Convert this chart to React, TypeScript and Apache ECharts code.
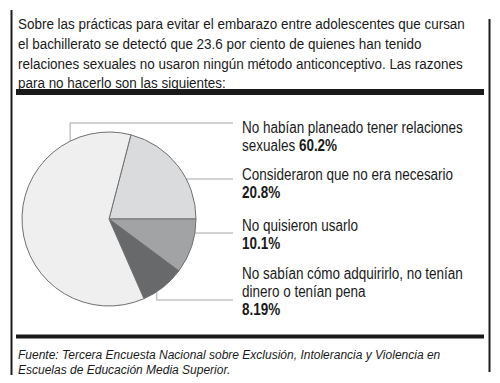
import React, { useEffect, useRef } from "react";
import * as echarts from "echarts";

// ---- data ----
const categories = [
  "No habían planeado tener relaciones\nsexuales",
  "Consideraron que no era necesario",
  "No quisieron usarlo",
  "No sabían cómo adquirirlo, no tenían\ndinero o tenían pena",
];
const values = [60.2, 20.8, 10.1, 8.19];
const valueLabels = ["60.2%", "20.8%", "10.1%", "8.19%"];
const headerLines = [
  "Sobre las prácticas para evitar el embarazo entre adolescentes que cursan",
  "el bachillerato se detectó que 23.6 por ciento de quienes han tenido",
  "relaciones sexuales no usaron ningún método anticonceptivo. Las razones",
  "para no hacerlo son las siguientes:",
];
const sourceLines = [
  "Fuente: Tercera Encuesta Nacional sobre Exclusión, Intolerancia y Violencia en",
  "Escuelas de Educación Media Superior.",
];

// ---- styling / layout ----
const sliceColors = ["#efefef", "#dadbdd", "#a2a3a5", "#68696b"];
const SANS = "'Liberation Sans', Arial, sans-serif";
const CX = 109;
const CY = 219;
const R = 87;
const anchors = [
  { a: 130.3, f: 0.69, elbowY: 123 },
  { a: 32.8, f: 0.85 },
  { a: -12.7, f: 0.73 },
  { a: -50.4, f: 0.86, elbowY: 300 },
];
const textTop = [128, 175, 226, 274];
const LINE_H = 18;
const TEXT_X = 242;
const LEADER_END = 233;
const HEADER_FS = 15.5;
const HEADER_REF_W = 445; // width of header line 3
const BLOCK_FS = 16;
const BLOCK_REF_W = 221; // width of first label line

function measure(text: string, font: string): number {
  const c = document.createElement("canvas").getContext("2d");
  if (!c) return text.length * 7;
  c.font = font;
  return c.measureText(text).width;
}

export default function App() {
  const ref = useRef<HTMLDivElement>(null);
  useEffect(() => {
    if (!ref.current) return;
    const chart = echarts.init(ref.current, null, { renderer: "svg" });
    const total = values.reduce((s, v) => s + v, 0);
    const order = [1, 2, 3, 0];
    const startAngle = (values[1] / total) * 360;

    const headerScale = HEADER_REF_W / measure(headerLines[2], `${HEADER_FS}px ${SANS}`);
    const blockScale = BLOCK_REF_W / measure(categories[0].split("\n")[0], `${BLOCK_FS}px ${SANS}`);

    const graphics: any[] = [];
    graphics.push({ type: "line", shape: { x1: 11.5, y1: 10, x2: 11.5, y2: 375 }, style: { stroke: "#1e1e1e", lineWidth: 2 } });
    graphics.push({ type: "line", shape: { x1: 489.5, y1: 19, x2: 489.5, y2: 372 }, style: { stroke: "#1e1e1e", lineWidth: 2 } });
    graphics.push({ type: "rect", shape: { x: 16, y: 89, width: 468, height: 6 }, style: { fill: "#1a1a1a" } });
    graphics.push({ type: "rect", shape: { x: 16, y: 334.5, width: 468, height: 4 }, style: { fill: "#1a1a1a" } });
    headerLines.forEach((t, i) => {
      graphics.push({
        type: "text",
        x: 18,
        y: 24 + i * 19.7,
        scaleX: headerScale,
        style: { text: t, x: 0, y: 0, fontFamily: SANS, fontSize: HEADER_FS, fill: "#1a1a1a", verticalAlign: "middle" },
      });
    });
    sourceLines.forEach((t, i) => {
      graphics.push({
        type: "text",
        style: { text: t, x: 18, y: 355 + i * 15, fontFamily: SANS, fontStyle: "italic", fontSize: 12, fill: "#1a1a1a", verticalAlign: "middle" },
      });
    });
    categories.forEach((c, i) => {
      const an = anchors[i];
      const rad = (an.a * Math.PI) / 180;
      const dx = CX + Math.cos(rad) * R * an.f;
      const dy = CY - Math.sin(rad) * R * an.f;
      const pts: number[][] = an.elbowY !== undefined
        ? [[dx, dy], [dx, an.elbowY], [LEADER_END, an.elbowY]]
        : [[dx, dy], [LEADER_END, dy]];
      graphics.push({ type: "polyline", shape: { points: pts }, style: { stroke: "#c4c4c4", lineWidth: 1.5, fill: null } });
      graphics.push({ type: "circle", shape: { cx: dx, cy: dy, r: 2.6 }, style: { fill: "#111" } });
      const lines = c.split("\n");
      let txt: string;
      if (i === 0) {
        txt = `{n|${lines[0]}}\n{n|${lines[1]} }{b|${valueLabels[i]}}`;
      } else {
        txt = lines.map((l) => `{n|${l}}`).join("\n") + `\n{b|${valueLabels[i]}}`;
      }
      graphics.push({
        type: "text",
        x: TEXT_X,
        y: textTop[i] - LINE_H / 2,
        scaleX: blockScale,
        style: {
          text: txt,
          x: 0,
          y: 0,
          verticalAlign: "top",
          rich: {
            n: { fontFamily: SANS, fontSize: BLOCK_FS, fill: "#1a1a1a", lineHeight: LINE_H },
            b: { fontFamily: SANS, fontSize: BLOCK_FS, fontWeight: "bold", fill: "#1a1a1a", lineHeight: LINE_H },
          },
        },
      });
    });

    chart.setOption({
      animation: false,
      backgroundColor: "#ffffff",
      series: [
        {
          type: "pie",
          center: [CX, CY],
          radius: [0, R],
          startAngle,
          clockwise: true,
          silent: true,
          label: { show: false },
          labelLine: { show: false },
          itemStyle: { borderColor: "#707070", borderWidth: 1 },
          data: order.map((k) => ({ name: categories[k], value: values[k], itemStyle: { color: sliceColors[k] } })),
        },
      ],
      graphic: graphics,
    });
    return () => chart.dispose();
  }, []);
  return <div ref={ref} style={{ position: "fixed", left: 0, top: 0, width: 500, height: 383 }} />;
}
